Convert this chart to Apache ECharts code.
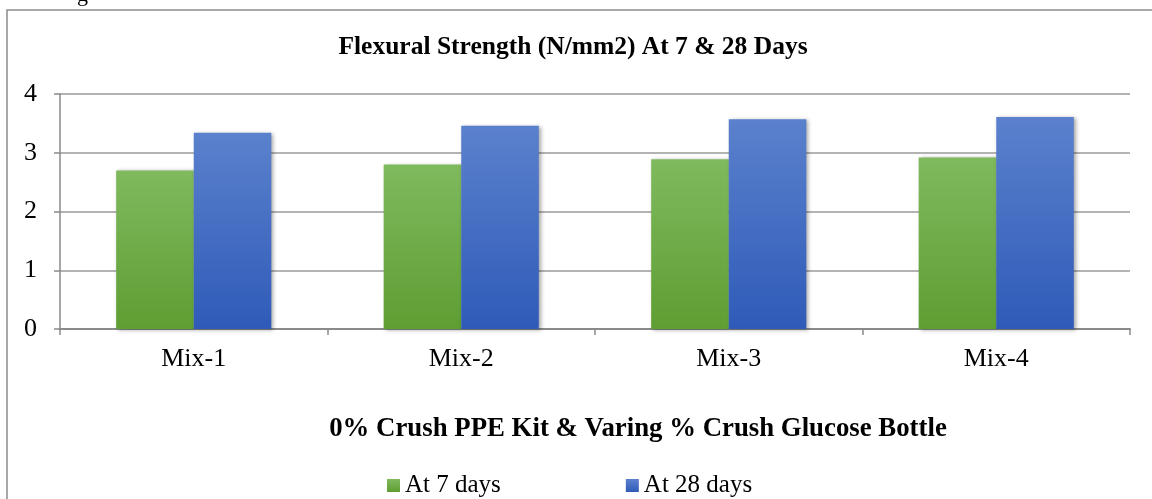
<!DOCTYPE html>
<html>
<head>
<meta charset="utf-8">
<script src="https://cdn.jsdelivr.net/npm/echarts@6/dist/echarts.min.js"></script>
<style>
html,body{margin:0;padding:0;background:#fff;}
#chart{width:1152px;height:499px;}
</style>
</head>
<body>
<div id="chart"></div>
<script>
const categories = ['Mix-1', 'Mix-2', 'Mix-3', 'Mix-4'];
const seriesNames = ['At 7 days', 'At 28 days'];
const days7 = [2.70, 2.80, 2.89, 2.92];
const days28 = [3.34, 3.46, 3.57, 3.61];
const yTicks = [0, 1, 2, 3, 4];

const FONT = "'Liberation Serif', 'Times New Roman', serif";
const greenGrad = new echarts.graphic.LinearGradient(0, 0, 0, 1, [
  {offset: 0, color: '#7fba5e'}, {offset: 1, color: '#5e9e32'}]);
const blueGrad = new echarts.graphic.LinearGradient(0, 0, 0, 1, [
  {offset: 0, color: '#5b81cd'}, {offset: 1, color: '#2f5bb8'}]);

const chart = echarts.init(document.getElementById('chart'), null, {renderer: 'canvas'});
chart.setOption({
  backgroundColor: '#fff',
  animation: false,
  title: [{
    text: 'Flexural Strength (N/mm2) At 7 & 28 Days',
    left: 568, textAlign: 'center', top: 29,
    textStyle: {fontFamily: FONT, fontWeight: 'bold', fontSize: 25.5, color: '#000'}
  }, {
    text: '0% Crush PPE Kit & Varing % Crush Glucose Bottle',
    left: 633, textAlign: 'center', top: 411,
    textStyle: {fontFamily: FONT, fontWeight: 'bold', fontSize: 26.8, color: '#000'}
  }],
  legend: {
    data: seriesNames,
    left: 382, top: 468,
    itemWidth: 13, itemHeight: 13, itemGap: 125,
    icon: 'rect',
    textStyle: {fontFamily: FONT, fontSize: 25, color: '#000'}
  },
  grid: {left: 60, right: 22, top: 94, bottom: 170, containLabel: false},
  xAxis: {
    type: 'category',
    data: categories,
    axisLine: {lineStyle: {color: '#8a8a8a', width: 2}},
    axisTick: {show: true, length: 6, lineStyle: {color: '#8a8a8a', width: 1.5}},
    axisLabel: {fontFamily: FONT, fontSize: 26, color: '#000', margin: 17}
  },
  yAxis: {
    type: 'value',
    min: yTicks[0], max: yTicks[yTicks.length - 1], interval: 1,
    axisLine: {show: true, lineStyle: {color: '#8a8a8a', width: 1.5}},
    axisTick: {show: true, length: 6, lineStyle: {color: '#8a8a8a', width: 1.5}},
    splitLine: {lineStyle: {color: '#9a9a9a', width: 1.5}},
    axisLabel: {fontFamily: FONT, fontSize: 26, color: '#000', margin: 23}
  },
  series: [{
    name: seriesNames[0], type: 'bar', data: days7,
    barGap: '0%', barCategoryGap: '42%',
    itemStyle: {color: greenGrad, shadowBlur: 4, shadowColor: 'rgba(0,0,0,0.35)', shadowOffsetX: 2, shadowOffsetY: 1}
  }, {
    name: seriesNames[1], type: 'bar', data: days28,
    barGap: '0%', barCategoryGap: '42%',
    itemStyle: {color: blueGrad, shadowBlur: 4, shadowColor: 'rgba(0,0,0,0.35)', shadowOffsetX: 2, shadowOffsetY: 1}
  }],
  graphic: [{
    type: 'rect', silent: true, z: -1,
    shape: {x: 7, y: 10, width: 1300, height: 700},
    style: {fill: 'none', stroke: '#8c8c8c', lineWidth: 1.5}
  }, {
    type: 'text', silent: true, x: 77, y: -16,
    style: {text: 'g', verticalAlign: 'top', font: '22px ' + FONT, fill: '#000'}
  }]
});
</script>
</body>
</html>
